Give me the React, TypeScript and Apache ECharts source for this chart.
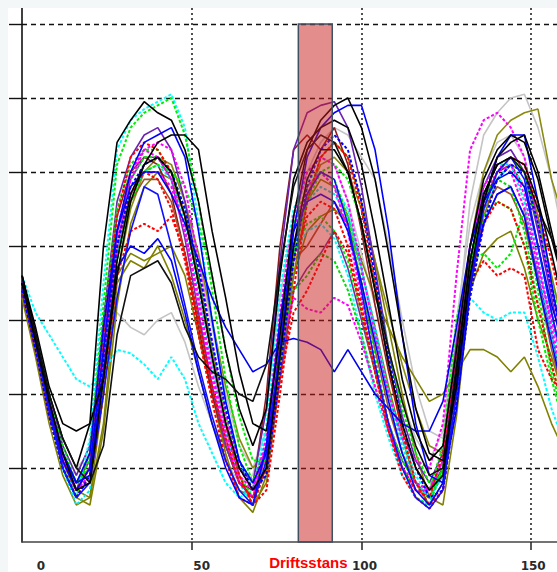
import React, { useEffect, useRef } from "react";
import * as echarts from "echarts";

// x positions of the samples
const xs = [0, 4, 8, 12, 16, 20, 24, 28, 32, 36, 40, 44, 48, 52, 56, 60, 64, 68, 72, 76, 80, 84, 88, 92, 96, 100, 104, 108, 112, 116, 120, 124, 128, 132, 136, 140, 144, 148, 152, 156, 160];

// series values
const grayA = [3.4, 2.7, 1.9, 1.3, 0.9, 1.3, 2.5, 3.1, 2.9, 2.8, 3.0, 3.1, 2.7, 2.1, 1.6, 1.1, 0.8, 0.9, 1.8, 3.3, 4.4, 5.0, 5.2, 5.1, 4.6, 3.9, 3.2, 2.5, 1.9, 1.4, 1.1, 1.5, 3.0, 4.3, 5.0, 5.4, 5.5, 5.2, 4.4, 3.6, 2.8];
const grayB = [3.5, 2.8, 2.0, 1.4, 1.0, 1.2, 2.4, 3.8, 4.6, 5.0, 5.2, 5.1, 4.6, 3.8, 2.9, 2.0, 1.3, 1.0, 1.5, 3.0, 4.3, 5.0, 5.4, 5.6, 5.5, 5.2, 4.9, 4.0, 3.0, 2.1, 1.5, 1.4, 2.8, 4.6, 5.5, 5.8, 6.0, 6.05, 5.6, 4.9, 4.0];
const oliveA = [3.4, 2.6, 1.8, 1.1, 0.7, 0.6, 1.6, 3.5, 3.8, 3.7, 4.0, 3.6, 3.0, 2.3, 1.6, 1.1, 0.7, 0.6, 1.3, 2.9, 4.0, 4.6, 4.9, 4.8, 4.4, 3.8, 3.3, 2.9, 2.5, 2.2, 1.9, 2.0, 2.3, 2.6, 2.6, 2.5, 2.3, 2.5, 2.1, 1.6, 1.2];
const oliveB = [3.3, 2.5, 1.6, 0.9, 0.5, 0.6, 2.0, 3.6, 3.9, 3.8, 3.9, 4.0, 3.6, 2.8, 2.0, 1.2, 0.6, 0.4, 0.9, 2.4, 3.6, 4.2, 4.4, 4.5, 4.3, 3.7, 2.9, 2.1, 1.4, 0.8, 0.5, 0.8, 2.0, 3.4, 3.9, 4.1, 4.2, 3.7, 3.0, 2.5, 1.9];
const oliveC = [3.5, 2.7, 1.9, 1.2, 0.8, 0.9, 2.0, 3.6, 4.5, 5.0, 5.2, 5.1, 4.6, 3.9, 3.0, 2.1, 1.4, 1.0, 1.2, 2.4, 3.8, 4.7, 5.1, 5.2, 5.0, 4.5, 3.8, 3.1, 2.4, 1.8, 1.3, 1.2, 2.4, 4.0, 5.0, 5.5, 5.7, 5.8, 5.85, 4.9, 4.3];
const oliveD = [3.4, 2.6, 1.8, 1.1, 0.6, 0.5, 1.5, 3.2, 4.3, 4.8, 5.0, 4.9, 4.4, 3.6, 2.6, 1.6, 0.9, 0.5, 0.8, 2.2, 3.6, 4.6, 5.2, 5.4, 5.2, 4.6, 3.8, 2.9, 2.0, 1.2, 0.6, 0.5, 1.7, 3.4, 4.4, 4.9, 5.1, 5.0, 4.4, 3.6, 2.8];
const darkRedA = [3.4, 2.6, 1.7, 1.1, 0.7, 1.2, 3.0, 4.4, 5.0, 5.2, 5.1, 4.7, 3.9, 2.9, 2.0, 1.3, 0.8, 0.7, 2.0, 4.0, 5.3, 5.5, 5.3, 5.6, 5.1, 4.2, 3.2, 2.3, 1.5, 1.0, 0.7, 1.0, 2.3, 3.7, 4.6, 5.0, 5.1, 4.8, 4.0, 3.1, 2.3];
const darkRedB = [3.5, 2.7, 1.9, 1.2, 0.8, 1.0, 2.4, 3.9, 4.6, 4.9, 4.9, 4.6, 3.9, 3.0, 2.1, 1.3, 0.8, 0.6, 1.2, 2.8, 3.8, 4.0, 4.3, 4.6, 4.3, 3.5, 2.6, 1.8, 1.2, 0.8, 0.6, 0.9, 2.4, 3.8, 4.5, 4.8, 4.7, 4.3, 3.5, 2.6, 1.9];
const purpleA = [3.6, 2.8, 2.0, 1.3, 0.9, 1.3, 3.0, 4.6, 5.2, 5.5, 5.6, 5.3, 4.6, 3.6, 2.5, 1.6, 1.0, 0.8, 1.8, 3.8, 5.3, 5.8, 5.9, 5.95, 5.6, 4.8, 3.7, 2.6, 1.7, 1.1, 0.8, 1.2, 2.7, 4.0, 4.8, 5.2, 5.3, 5.0, 4.2, 3.3, 2.4];
const purpleB = [3.5, 2.7, 1.8, 1.2, 0.8, 1.1, 2.8, 4.2, 4.9, 5.2, 5.2, 4.9, 4.1, 3.1, 2.1, 1.3, 0.8, 0.6, 1.0, 2.2, 3.4, 3.7, 3.9, 4.2, 3.7, 3.0, 2.3, 1.6, 1.1, 0.8, 0.6, 0.9, 2.2, 3.5, 4.3, 4.7, 4.8, 4.4, 3.6, 2.8, 2.0];
const cyanA = [3.5, 2.7, 1.8, 1.1, 0.6, 1.4, 3.5, 5.3, 5.7, 5.85, 5.95, 6.05, 5.6, 4.3, 3.0, 1.9, 1.1, 0.7, 1.6, 3.4, 4.5, 4.9, 5.0, 4.8, 4.5, 3.7, 2.8, 2.0, 1.4, 0.9, 0.6, 0.9, 2.2, 3.6, 4.5, 4.9, 5.1, 4.8, 3.9, 3.0, 2.2];
const cyanB = [3.6, 3.1, 2.8, 2.5, 2.2, 2.1, 2.3, 2.6, 2.55, 2.4, 2.2, 2.5, 2.2, 1.6, 1.2, 0.8, 0.6, 0.7, 1.5, 3.0, 3.9, 4.2, 4.3, 4.1, 3.6, 2.8, 2.0, 1.4, 0.9, 0.6, 0.5, 1.2, 2.6, 3.3, 3.1, 3.0, 3.1, 3.1, 2.5, 1.8, 1.3];
const cyanC = [3.5, 2.7, 1.8, 1.0, 0.5, 0.7, 2.3, 3.9, 4.7, 5.0, 5.1, 4.9, 4.3, 3.4, 2.4, 1.5, 0.8, 0.5, 1.0, 2.6, 4.0, 4.6, 4.8, 4.7, 4.4, 3.7, 2.9, 2.0, 1.3, 0.8, 0.6, 0.9, 2.4, 3.9, 4.8, 5.1, 5.1, 4.6, 3.7, 2.8, 2.0];
const greenA = [3.4, 2.6, 1.7, 1.0, 0.6, 1.2, 3.2, 5.1, 5.6, 5.8, 5.9, 6.0, 5.5, 4.6, 3.4, 2.2, 1.3, 0.8, 1.3, 3.0, 4.3, 4.8, 5.0, 4.9, 4.4, 3.5, 2.5, 1.6, 1.0, 0.6, 0.5, 1.0, 2.5, 3.8, 4.4, 4.6, 4.5, 4.0, 3.0, 2.2, 1.5];
const greenB = [3.5, 2.8, 2.0, 1.3, 0.8, 1.0, 2.7, 4.2, 4.9, 5.2, 5.2, 5.0, 4.5, 3.6, 2.6, 1.6, 0.9, 0.6, 1.1, 2.7, 3.9, 4.3, 4.4, 4.2, 3.8, 3.1, 2.3, 1.6, 1.1, 0.8, 0.7, 1.3, 3.0, 3.8, 3.9, 3.7, 3.9, 4.5, 3.4, 2.3, 1.6];
const greenC = [3.4, 2.7, 1.9, 1.2, 0.8, 0.9, 2.2, 3.8, 4.6, 5.0, 5.1, 5.0, 4.8, 4.3, 3.6, 2.6, 1.7, 1.1, 1.1, 2.5, 3.9, 4.6, 5.0, 5.1, 4.9, 4.3, 3.5, 2.6, 1.8, 1.2, 0.8, 0.9, 2.2, 3.7, 4.6, 5.0, 5.2, 5.0, 4.3, 3.5, 2.7];
const greenD = [3.5, 2.7, 1.9, 1.2, 0.8, 1.1, 2.9, 4.5, 5.1, 5.3, 5.3, 5.0, 4.4, 3.5, 2.6, 1.7, 1.1, 0.8, 1.3, 2.6, 3.4, 3.6, 3.9, 3.8, 3.4, 2.8, 2.1, 1.5, 1.0, 0.7, 0.6, 1.0, 2.5, 3.8, 4.6, 4.9, 4.8, 4.2, 3.2, 2.4, 1.7];
const magentaA = [3.5, 2.7, 1.9, 1.2, 0.7, 0.9, 2.5, 4.0, 4.9, 5.3, 5.4, 5.3, 4.8, 3.8, 2.7, 1.7, 1.0, 0.7, 1.4, 3.1, 4.4, 5.0, 5.2, 5.1, 4.6, 3.7, 2.8, 2.0, 1.4, 1.1, 1.0, 1.6, 3.6, 5.3, 5.7, 5.8, 5.6, 5.2, 4.3, 3.4, 2.6];
const magentaB = [3.4, 2.6, 1.8, 1.1, 0.7, 1.0, 2.6, 4.1, 4.7, 5.0, 5.0, 4.8, 4.2, 3.3, 2.3, 1.5, 0.9, 0.7, 1.3, 2.6, 3.3, 3.15, 3.1, 3.3, 3.2, 2.7, 2.1, 1.5, 1.0, 0.8, 0.7, 1.1, 2.6, 4.0, 4.7, 5.0, 5.1, 4.7, 3.8, 2.9, 2.1];
const magentaC = [3.5, 2.7, 1.8, 1.1, 0.7, 0.9, 2.6, 4.2, 5.0, 5.3, 5.2, 4.9, 4.2, 3.2, 2.2, 1.4, 0.8, 0.6, 1.2, 2.8, 4.2, 4.8, 5.0, 4.8, 4.2, 3.3, 2.4, 1.6, 1.0, 0.7, 0.7, 1.1, 2.6, 4.0, 4.8, 5.1, 5.0, 4.5, 3.7, 3.0, 2.3];
const redA = [3.4, 2.6, 1.7, 1.0, 0.6, 0.9, 2.5, 4.0, 4.7, 5.0, 4.9, 4.5, 3.8, 2.8, 1.9, 1.1, 0.6, 0.5, 1.0, 2.6, 3.8, 4.4, 4.6, 4.5, 4.0, 3.2, 2.3, 1.5, 0.9, 0.6, 0.45, 0.7, 2.0, 3.4, 4.3, 4.6, 4.5, 4.0, 3.2, 2.4, 1.7];
const redB = [3.5, 2.7, 1.8, 1.1, 0.7, 0.8, 2.0, 3.6, 4.2, 4.3, 4.2, 4.4, 3.9, 3.0, 2.1, 1.4, 0.8, 0.6, 1.0, 2.2, 3.1, 3.4, 3.8, 4.2, 3.9, 3.1, 2.3, 1.5, 1.0, 0.7, 0.6, 1.2, 2.6, 3.5, 3.8, 3.6, 3.7, 3.6, 2.6, 2.2, 2.0];
const redC = [3.6, 2.8, 1.9, 1.2, 0.7, 1.0, 2.8, 4.4, 5.2, 5.4, 5.3, 5.0, 4.4, 3.5, 2.5, 1.6, 0.9, 0.5, 0.7, 2.0, 3.4, 4.6, 5.2, 5.4, 5.2, 4.5, 3.5, 2.4, 1.5, 0.8, 0.5, 0.7, 2.0, 3.5, 4.5, 5.0, 5.2, 5.1, 4.5, 3.8, 3.0];
const blueA = [3.5, 2.7, 1.8, 1.1, 0.7, 1.0, 2.6, 4.2, 5.0, 5.4, 5.5, 5.6, 5.2, 4.2, 3.0, 1.9, 1.1, 0.8, 1.2, 2.6, 4.2, 5.2, 5.6, 5.8, 5.9, 5.9, 5.3, 4.2, 2.8, 1.6, 0.9, 0.8, 1.8, 3.4, 4.6, 5.2, 5.5, 5.5, 4.6, 3.5, 2.5];
const blueB = [3.5, 2.8, 1.9, 1.2, 0.8, 1.2, 2.9, 4.2, 4.8, 5.0, 5.0, 4.7, 4.3, 3.8, 3.3, 2.9, 2.6, 2.3, 2.4, 2.7, 2.75, 2.7, 2.6, 2.3, 2.6, 2.3, 2.0, 1.8, 1.6, 1.5, 1.5, 1.9, 2.9, 4.0, 4.6, 4.9, 5.0, 4.8, 4.0, 3.2, 2.6];
const blueC = [3.6, 2.8, 1.9, 1.2, 0.8, 0.9, 2.3, 3.7, 4.0, 3.9, 4.1, 3.8, 3.1, 2.3, 1.6, 1.0, 0.6, 0.5, 1.3, 3.0, 4.2, 4.6, 4.7, 4.6, 4.2, 3.5, 2.7, 1.9, 1.2, 0.7, 0.5, 0.8, 2.2, 3.6, 4.3, 4.7, 4.8, 4.4, 3.5, 2.7, 1.9];
const blueD = [3.5, 2.7, 1.8, 1.0, 0.6, 0.8, 2.0, 3.3, 4.2, 4.8, 4.7, 4.0, 3.2, 2.4, 1.7, 1.1, 0.7, 0.5, 1.1, 2.6, 4.0, 4.7, 5.0, 4.9, 4.3, 3.4, 2.4, 1.6, 1.0, 0.6, 0.45, 0.7, 2.0, 3.5, 4.5, 5.0, 5.2, 4.9, 4.0, 3.1, 2.3];
const blueE = [3.4, 2.6, 1.7, 1.0, 0.6, 0.9, 2.5, 4.0, 4.8, 5.1, 5.2, 5.0, 4.5, 3.7, 2.7, 1.8, 1.1, 0.7, 0.9, 2.3, 3.8, 4.8, 5.3, 5.5, 5.3, 4.6, 3.6, 2.5, 1.6, 1.0, 0.6, 0.7, 1.9, 3.3, 4.3, 4.9, 5.1, 5.0, 4.3, 3.4, 2.6];
const blackA = [3.6, 2.8, 2.0, 1.4, 1.0, 1.6, 4.0, 5.4, 5.7, 5.95, 5.8, 5.7, 5.3, 4.6, 3.6, 2.6, 1.8, 1.3, 1.8, 3.6, 4.9, 5.4, 5.6, 5.7, 5.6, 5.1, 4.2, 3.2, 2.2, 1.5, 1.1, 1.3, 2.6, 4.0, 4.9, 5.3, 5.5, 5.4, 4.9, 4.1, 3.4];
const blackB = [3.5, 2.8, 2.0, 1.4, 1.0, 0.8, 1.3, 2.8, 3.6, 3.7, 3.8, 3.5, 2.9, 2.5, 2.3, 2.2, 2.0, 1.9, 2.4, 3.7, 4.8, 5.3, 5.5, 5.4, 5.0, 4.3, 3.4, 2.6, 1.9, 1.3, 0.9, 1.0, 2.4, 3.8, 4.7, 5.1, 5.2, 5.0, 4.5, 4.1, 3.6];
const blackC = [3.6, 2.9, 2.1, 1.6, 1.5, 1.6, 2.2, 3.6, 4.6, 5.1, 5.4, 5.5, 5.5, 5.3, 4.2, 3.3, 2.3, 1.6, 1.5, 2.8, 4.4, 5.3, 5.7, 5.9, 6.0, 5.6, 4.9, 3.9, 2.8, 1.8, 1.2, 1.1, 2.1, 3.6, 4.6, 5.2, 5.4, 5.5, 5.0, 4.2, 3.4];
const blackD = [3.5, 2.7, 1.9, 1.2, 0.7, 0.8, 2.2, 3.8, 4.7, 5.1, 5.2, 5.0, 4.4, 3.5, 2.5, 1.6, 1.0, 0.7, 1.0, 2.5, 4.0, 4.9, 5.3, 5.3, 5.0, 4.3, 3.4, 2.4, 1.6, 1.0, 0.7, 0.9, 2.3, 3.8, 4.7, 5.1, 5.2, 5.1, 4.6, 3.9, 3.1];

// axis ticks and labels
const xTickValues = [0, 50, 100, 150];
const xTickLabels = ["0", "50", "100", "150"];
const xGridValues = [50, 100, 150];
const yTickValues = [1, 2, 3, 4, 5, 6, 7];

// stoppage interval
const stopLabel = "Driftsstans";
const stopStart = 81.4;
const stopEnd = 91.4;

type Spec = { name: string; values: number[]; color: string; dashed: boolean };

const lines: Spec[] = [
  { name: "grayA", values: grayA, color: "#c4c4c4", dashed: false },
  { name: "grayB", values: grayB, color: "#c4c4c4", dashed: false },
  { name: "oliveA", values: oliveA, color: "#808000", dashed: false },
  { name: "oliveB", values: oliveB, color: "#808000", dashed: false },
  { name: "oliveC", values: oliveC, color: "#8a8a10", dashed: false },
  { name: "oliveD", values: oliveD, color: "#808000", dashed: false },
  { name: "darkRedA", values: darkRedA, color: "#8b1a1a", dashed: false },
  { name: "darkRedB", values: darkRedB, color: "#a0522d", dashed: false },
  { name: "purpleA", values: purpleA, color: "#6a22b0", dashed: false },
  { name: "purpleB", values: purpleB, color: "#7030a0", dashed: false },
  { name: "cyanA", values: cyanA, color: "#00ffff", dashed: true },
  { name: "cyanB", values: cyanB, color: "#00ffff", dashed: true },
  { name: "cyanC", values: cyanC, color: "#00e5ee", dashed: true },
  { name: "greenA", values: greenA, color: "#00ee00", dashed: true },
  { name: "greenB", values: greenB, color: "#00ee00", dashed: true },
  { name: "greenC", values: greenC, color: "#00ee00", dashed: true },
  { name: "greenD", values: greenD, color: "#00dd00", dashed: true },
  { name: "magentaA", values: magentaA, color: "#ff00ff", dashed: true },
  { name: "magentaB", values: magentaB, color: "#ff00ff", dashed: true },
  { name: "magentaC", values: magentaC, color: "#ff00ff", dashed: true },
  { name: "redA", values: redA, color: "#ff0000", dashed: true },
  { name: "redB", values: redB, color: "#ff0000", dashed: true },
  { name: "redC", values: redC, color: "#ff0000", dashed: true },
  { name: "blueE", values: blueE, color: "#0000ff", dashed: true },
  { name: "blueA", values: blueA, color: "#0000ff", dashed: false },
  { name: "blueB", values: blueB, color: "#0000ee", dashed: false },
  { name: "blueC", values: blueC, color: "#0000ff", dashed: false },
  { name: "blueD", values: blueD, color: "#1010ff", dashed: false },
  { name: "blackA", values: blackA, color: "#000000", dashed: false },
  { name: "blackB", values: blackB, color: "#111111", dashed: false },
  { name: "blackC", values: blackC, color: "#000000", dashed: false },
  { name: "blackD", values: blackD, color: "#000000", dashed: false },
];

const labelFont = { fontFamily: "DejaVu Sans", fontSize: 12, fontWeight: "bold" as const, color: "#2a2a2a" };

export default function App() {
  const ref = useRef<HTMLDivElement>(null);
  useEffect(() => {
    if (!ref.current) return;
    const chart = echarts.init(ref.current, null, { renderer: "svg" });
    const series: any[] = lines.map((l) => ({
      type: "line",
      name: l.name,
      data: xs.map((x, i) => [x, l.values[i]]),
      symbol: "none",
      showSymbol: false,
      silent: true,
      lineStyle: {
        color: l.color,
        width: l.dashed ? 2 : 1.6,
        type: l.dashed ? [3, 2] : "solid",
      },
    }));
    series.push({
      type: "line",
      name: "stop",
      data: [],
      clip: false,
      silent: true,
      markArea: {
        silent: true,
        z: 10,
        itemStyle: {
          color: "rgba(200, 28, 28, 0.5)",
          borderColor: "#3f5063",
          borderWidth: 1.5,
        },
        label: {
          show: true,
          position: "bottom",
          distance: 12,
          offset: [-7, 0],
          color: "#ff0000",
          fontWeight: "bold",
          fontSize: 15,
          fontFamily: "Liberation Sans",
        },
        data: [[{ name: stopLabel, xAxis: stopStart, yAxis: 0 }, { xAxis: stopEnd, yAxis: 7 }]],
      },
    });

    chart.setOption({
      animation: false,
      backgroundColor: "#ffffff",
      grid: { left: 14, right: 0, top: 0, bottom: 30, containLabel: false },
      xAxis: {
        type: "value",
        min: 0,
        max: 157.6,
        interval: 50,
        axisLine: { show: true, lineStyle: { color: "#444", width: 1.5 } },
        axisTick: { show: true, length: 8, customValues: xGridValues, lineStyle: { color: "#222", width: 1.5 } },
        axisLabel: {
          show: true,
          margin: 18,
          customValues: xTickValues,
          ...labelFont,
          formatter: (v: number) => {
            const i = xTickValues.indexOf(v);
            if (i < 0) return "";
            return `{l${i}|${xTickLabels[i]}}`;
          },
          rich: {
            l0: { ...labelFont, padding: [0, 0, 0, 38] },
            l1: { ...labelFont, padding: [0, 0, 0, 20] },
            l2: { ...labelFont, padding: [0, 0, 0, 6] },
            l3: { ...labelFont, padding: [0, 0, 0, 4] },
          },
        },
        splitLine: {
          show: true,
          lineStyle: { color: "#333", type: [2, 3], width: 1.7 },
        },
      },
      yAxis: {
        type: "value",
        min: 0,
        max: 7.216,
        interval: 1,
        axisLine: { show: true, onZero: false, lineStyle: { color: "#111", width: 1.6 } },
        axisTick: { show: true, length: 13, customValues: yTickValues, lineStyle: { color: "#111", width: 1.4 } },
        axisLabel: { show: false },
        splitLine: {
          show: true,
          lineStyle: { color: "#111", type: [5, 4], width: 1.4 },
        },
      },
      series,
    });
    return () => chart.dispose();
  }, []);

  return (
    <div style={{ position: "absolute", left: 0, top: 0, width: 557, height: 572, background: "#f3f7f7" }}>
      <div ref={ref} style={{ position: "absolute", left: 8, top: 8, width: 549, height: 564 }} />
    </div>
  );
}
